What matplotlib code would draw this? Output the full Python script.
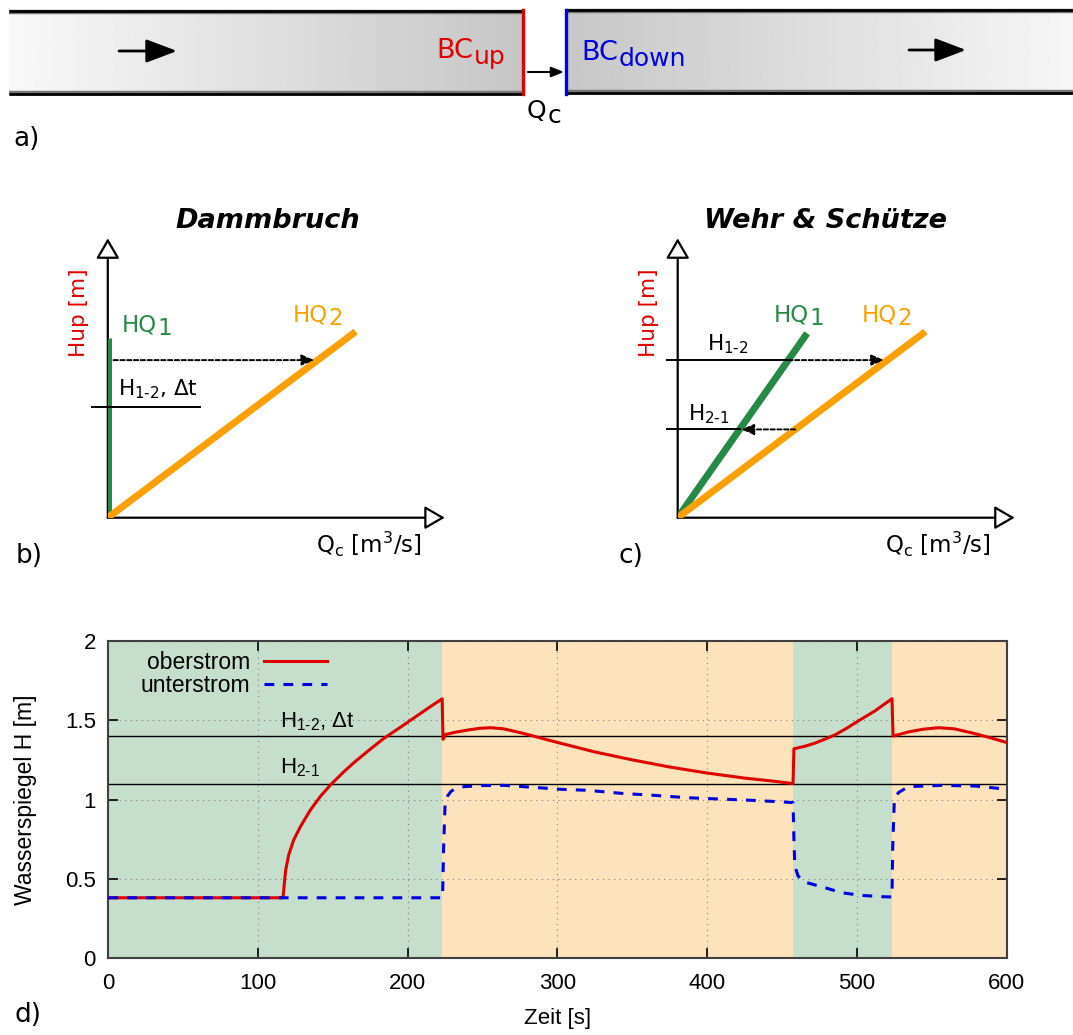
import numpy as np
import matplotlib.pyplot as plt

plt.rcParams['font.family'] = ['Liberation Sans', 'DejaVu Sans']
plt.rcParams['mathtext.default'] = 'regular'
SCH = ['DejaVu Sans']  # Schrift der Skizzen a) - c)

# ---- d) Wasserspiegel
t_ober = [0, 116.7, 117.6, 118.5, 120.5, 123.8, 128.3, 135, 141.7, 148.4, 157, 164, 174,
          184, 195, 205, 215, 223, 223.6, 225.4, 232, 240, 248, 255.5, 264, 275.6, 288, 300.8,
          325, 350, 375, 400, 425, 445, 457.4, 458, 465, 471.9, 478, 485.3, 493, 500.9, 512,
          523.5, 524.2, 534.4, 544, 554.5, 565, 576.6, 589, 600]
h_ober = [0.38, 0.38, 0.471, 0.555, 0.65, 0.744, 0.828, 0.934, 1.02, 1.092, 1.172, 1.232, 1.31,
          1.385, 1.455, 1.52, 1.585, 1.635, 1.38, 1.41, 1.425, 1.438, 1.449, 1.453, 1.446,
          1.421, 1.39, 1.358, 1.30, 1.25, 1.205, 1.167, 1.135, 1.115, 1.10, 1.32, 1.335, 1.355,
          1.378, 1.407, 1.448, 1.495, 1.558, 1.636, 1.40, 1.426, 1.443, 1.453, 1.446, 1.421,
          1.39, 1.36]
t_unter = [0, 223.3, 224.0, 225.0, 226.5, 228.8, 232, 237.6, 250, 264.4, 286.7, 300.8, 320.2,
           342.5, 364.8, 387.2, 429.5, 451.8, 457.4, 458.0, 458.6, 460.8, 465.2, 478.6, 489.8,
           503.1, 516.5, 523.5, 524.0, 525, 527.7, 534.4, 556.7, 579, 600]
h_unter = [0.38, 0.38, 0.70, 0.98, 1.02, 1.05, 1.07, 1.081, 1.088, 1.089, 1.075, 1.065, 1.058,
           1.039, 1.026, 1.011, 0.995, 0.984, 0.98, 0.75, 0.58, 0.517, 0.479, 0.444, 0.412,
           0.395, 0.387, 0.385, 0.70, 0.98, 1.043, 1.081, 1.089, 1.085, 1.065]
phase_edges = [0, 223, 457.5, 523.5, 600]
phase_kind = ['HQ1', 'HQ2', 'HQ1', 'HQ2']
H12, H21 = 1.4, 1.1
x_ticks = [0, 100, 200, 300, 400, 500, 600]
y_ticks = [0, 0.5, 1, 1.5, 2]
y_tick_labels = ['0', '0.5', '1', '1.5', '2']

# ---- b) / c) Skizzen (Einheitskoordinaten Q, H)
hq1_b = (0.0, 0.642)
hq2_b = (0.7355, 0.666)
b_h12 = 0.397
b_jump = 0.564
hq1_c = (0.384, 0.66)
hq2_c = (0.735, 0.666)
c_h12 = 0.564
c_h21 = 0.316

bg = {'HQ1': '#c5dfcc', 'HQ2': '#fde3bb'}
green, orange = '#248a45', '#ffa000'
red, blue = '#e00000', '#0000e0'

W, H = 1073, 1035
fig = plt.figure(figsize=(W / 100, H / 100), dpi=100)

# Overlay in Pixelkoordinaten fuer a) und die Beschriftungen
ov = fig.add_axes([0, 0, 1, 1])
ov.axis('off')


def sub_label(ax, x, y, main, sub, size, color='k', sub_size=None, drop=3.0, **kw):
    t = ax.text(x, y, main, fontsize=size, color=color, va='baseline', family=SCH, **kw)
    ax.annotate(sub, xy=(1, 0), xycoords=t, xytext=(0.5, -drop), textcoords='offset points',
                fontsize=sub_size or size, color=color, va='bottom', ha='left', family=SCH)
    return t


# a) Gerinne
ov.imshow(np.linspace(0.975, 0.775, 256)[None, :], cmap='gray', vmin=0, vmax=1,
          extent=(9, 523, 93, 12), aspect='auto')
ov.imshow(np.linspace(0.78, 0.965, 256)[None, :], cmap='gray', vmin=0, vmax=1,
          extent=(566, 1073, 92, 11), aspect='auto')
for x0, x1, y0, y1 in [(9, 523, 12, 93), (566, 1073, 11, 92)]:
    ov.plot([x0, x1], [y0, y0], color='#777777', lw=3.2, solid_capstyle='butt')
    ov.plot([x0, x1], [y0 - 0.7, y0 - 0.7], color='k', lw=2, solid_capstyle='butt')
    ov.plot([x0, x1], [y1, y1], color='#777777', lw=3.2, solid_capstyle='butt')
    ov.plot([x0, x1], [y1 + 0.7, y1 + 0.7], color='k', lw=2, solid_capstyle='butt')
ov.plot([523, 523], [10, 94], color=red, lw=2.4)
ov.plot([566, 566], [10, 94], color=blue, lw=2.4)
for xs, xe, yy in [(119, 177, 51), (909, 966, 50)]:
    ov.annotate('', xy=(xe, yy), xytext=(xs, yy),
                arrowprops=dict(arrowstyle='-|>,head_length=0.95,head_width=0.36', lw=2,
                                color='k', mutation_scale=20, shrinkA=0, shrinkB=0))
ov.annotate('', xy=(564, 72), xytext=(528, 72),
            arrowprops=dict(arrowstyle='-|>,head_length=0.75,head_width=0.3', lw=1.5,
                            color='k', mutation_scale=10, shrinkA=0, shrinkB=0))
sub_label(ov, 436, 58.3, 'BC', 'up', 19.5, red, 18, drop=3.6)
sub_label(ov, 581, 60, 'BC', 'down', 19.5, blue, 18, drop=3.6)
sub_label(ov, 527, 118.3, 'Q', 'c', 18, 'k', 18, drop=3.6)
ov.text(13, 146, 'a)', fontsize=19, va='baseline', family=SCH)


def sketch_axes(left_px):
    ax = fig.add_axes([left_px / W, 1 - 517.7 / H, 337 / W, 279.4 / H])
    ax.set_xlim(0, 1)
    ax.set_ylim(0, 1)
    ax.axis('off')
    for tip in [(1, 0), (0, 1)]:
        ax.annotate('', xy=tip, xytext=(0, 0),
                    arrowprops=dict(arrowstyle='-|>,head_length=0.62,head_width=0.36',
                                    lw=1.6, fc='white', ec='k', mutation_scale=20,
                                    shrinkA=0, shrinkB=0), zorder=1)
    return ax


def dashed_arrow(ax, x_from, x_to, level):
    ax.annotate('', xy=(x_to, level), xytext=(x_from, level),
                arrowprops=dict(arrowstyle='-|>,head_length=0.75,head_width=0.32', lw=1.4,
                                color='k', linestyle=(0, (2.2, 1.3)), mutation_scale=10,
                                shrinkA=0, shrinkB=0), zorder=4)


# b) Dammbruch
axb = sketch_axes(107.8)
axb.plot([0, hq1_b[0]], [0, hq1_b[1]], color=green, lw=5, solid_capstyle='butt', zorder=2)
axb.plot([0, hq2_b[0]], [0, hq2_b[1]], color=orange, lw=5, solid_capstyle='butt', zorder=3)
axb.plot([-0.046, 0.274], [b_h12, b_h12], color='k', lw=1.4, zorder=4, clip_on=False)
dashed_arrow(axb, 0.017, b_jump * hq2_b[0] / hq2_b[1] - 0.01, b_jump)

# c) Wehr & Schuetze
axc = sketch_axes(677.7)
axc.plot([0, hq1_c[0]], [0, hq1_c[1]], color=green, lw=5, solid_capstyle='butt', zorder=2)
axc.plot([0, hq2_c[0]], [0, hq2_c[1]], color=orange, lw=5, solid_capstyle='butt', zorder=3)
for level, to_right in [(c_h12, True), (c_h21, False)]:
    xg = level * hq1_c[0] / hq1_c[1]
    xo = level * hq2_c[0] / hq2_c[1]
    axc.plot([-0.032, xg], [level, level], color='k', lw=1.4, zorder=4, clip_on=False)
    if to_right:
        dashed_arrow(axc, xg, xo - 0.01, level)
    else:
        dashed_arrow(axc, xo, xg + 0.005, level)

# Beschriftungen b) und c)
ov.text(268, 228, 'Dammbruch', ha='center', va='baseline', fontsize=19.5,
        fontweight='bold', fontstyle='italic', family=SCH)
ov.text(826, 228, 'Wehr & Schütze', ha='center', va='baseline', fontsize=19.5,
        fontweight='bold', fontstyle='italic', family=SCH)
for xl in [79, 649]:
    ov.text(xl, 313, 'Hup [m]', rotation=90, ha='center', va='center', color=red,
            fontsize=15.5, family=SCH)
for xq in [316, 885]:
    ov.text(xq, 553, r'Q$_c$ [m$^3$/s]', va='baseline', fontsize=16.5, family=SCH)
sub_label(ov, 122, 331.7, 'HQ', '1', 16.5, green, drop=2.5)
sub_label(ov, 293, 321.7, 'HQ', '2', 16.5, orange, drop=2.5)
sub_label(ov, 774, 321.7, 'HQ', '1', 16.5, green, drop=2.5)
sub_label(ov, 862, 321.7, 'HQ', '2', 16.5, orange, drop=2.5)
ov.text(118, 395, 'H$_{1‐2}$, Δt', va='baseline', fontsize=15.5, family=SCH)
ov.text(707, 350.7, 'H$_{1‐2}$', va='baseline', fontsize=15.5, family=SCH)
ov.text(688, 420, 'H$_{2‐1}$', va='baseline', fontsize=15.5, family=SCH)
ov.text(16, 563, 'b)', fontsize=19, va='baseline', family=SCH)
ov.text(619, 563, 'c)', fontsize=19, va='baseline', family=SCH)
ov.text(14, 1022, 'd)', fontsize=19, va='baseline', family=SCH)
ov.set_xlim(0, W)
ov.set_ylim(H, 0)

# d) Zeitreihe
axd = fig.add_axes([108.3 / W, 1 - 958 / H, 898.2 / W, 317 / H])
for a, b, kind in zip(phase_edges[:-1], phase_edges[1:], phase_kind):
    axd.axvspan(a, b, color=bg[kind], lw=0, zorder=0)
axd.axhline(H12, color='k', lw=1, zorder=2)
axd.axhline(H21, color='k', lw=1, zorder=2)
axd.plot(t_ober, h_ober, color=red, lw=2.2, label='oberstrom', zorder=3)
axd.plot(t_unter, h_unter, color=blue, lw=2.2, dashes=(3.2, 3.0), label='unterstrom', zorder=4)
axd.text(115, 1.453, 'H$_{1‐2}$, Δt', fontsize=16, va='baseline')
axd.text(115, 1.165, 'H$_{2‐1}$', fontsize=16, va='baseline')
axd.set_xlim(0, 600)
axd.set_ylim(0, 2)
axd.set_xticks(x_ticks)
axd.set_yticks(y_ticks)
axd.set_yticklabels(y_tick_labels)
axd.grid(True, linestyle=(0, (1, 4)), color='#808080', lw=0.8)
axd.tick_params(direction='in', top=True, right=True, length=7, width=1.2, labelsize=16)
axd.tick_params(axis='x', pad=11)
axd.tick_params(axis='y', pad=9)
for s in axd.spines.values():
    s.set_color('#404040')
    s.set_linewidth(1.5)
axd.set_xlabel('Zeit [s]', fontsize=16, labelpad=10)
axd.set_ylabel('Wasserspiegel H [m]', fontsize=16.5, labelpad=20)
axd.legend(frameon=False, markerfirst=False, loc='upper left', bbox_to_anchor=(0.036, 0.969),
           borderaxespad=0, borderpad=0, fontsize=16.5, handlelength=2.75,
           handletextpad=0.6, labelspacing=0.02)

fig.savefig('out.png', dpi=100)
